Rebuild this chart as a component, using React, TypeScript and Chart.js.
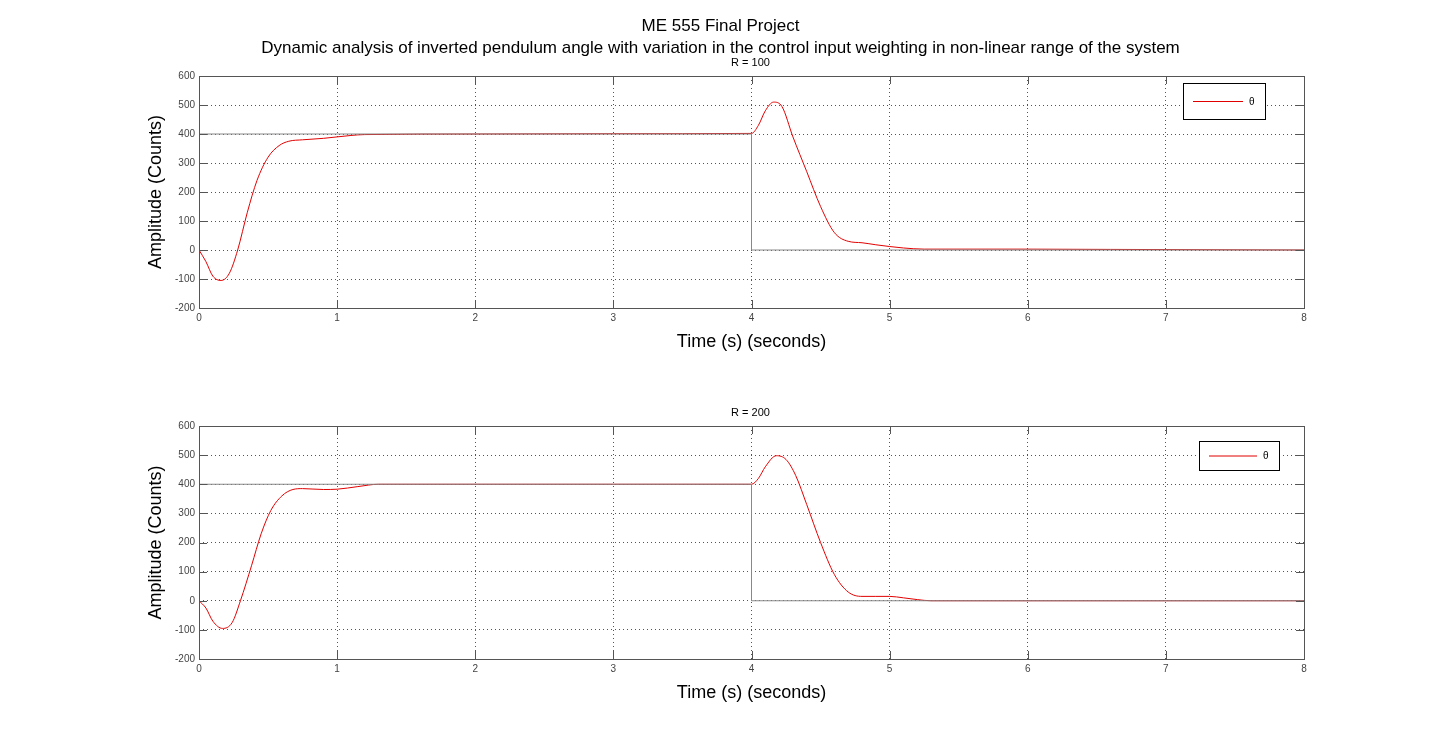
import React, { useEffect, useRef } from "react";
import { Chart, registerables } from "chart.js";
Chart.register(...registerables);

const xTicks = [0, 1, 2, 3, 4, 5, 6, 7, 8];
const yTicks = [-200, -100, 0, 100, 200, 300, 400, 500, 600];
const refT = [0, 4, 4, 8];
const refV = [400, 400, 0, 0];
const t100 = [0, 0.05, 0.1, 0.16, 0.22, 0.28, 0.35, 0.42, 0.5, 0.58, 0.65, 0.75, 0.9, 1.0, 1.2, 2, 3, 4, 4.05, 4.1, 4.16, 4.22, 4.3, 4.4, 4.5, 4.6, 4.7, 4.8, 4.9, 5.0, 5.1, 5.25, 6, 6.6, 8];
const v100 = [0, -40, -90, -105, -80, 0, 130, 240, 320, 360, 375, 380, 385, 390, 398, 400, 401, 402, 430, 480, 510, 495, 390, 270, 150, 60, 30, 25, 18, 12, 7, 3, 3, 2, 0];
const t200 = [0, 0.05, 0.1, 0.17, 0.24, 0.3, 0.38, 0.45, 0.52, 0.6, 0.68, 0.75, 0.9, 1.0, 1.15, 1.3, 2, 3, 4, 4.05, 4.1, 4.18, 4.25, 4.32, 4.4, 4.5, 4.6, 4.7, 4.8, 4.9, 5.0, 5.1, 5.2, 5.3, 6, 8];
const v200 = [0, -25, -70, -95, -75, 0, 120, 230, 310, 360, 382, 385, 382, 383, 392, 400, 400, 400, 400, 420, 460, 498, 485, 430, 330, 200, 90, 30, 15, 15, 15, 10, 4, 0, 0, 0];

const pts = (t: number[], v: number[]) => t.map((x, i) => ({ x, y: v[i] }));
const FONT = "'Liberation Sans', Arial, sans-serif";

const framePlugin = (legendRight: number, legendTop: number, legendW: number, legendH: number) => ({
  id: "frame",
  afterDraw(chart: any) {
    const { ctx, chartArea: a, scales } = chart;
    ctx.save();
    ctx.setLineDash([]);
    ctx.strokeStyle = "#555";
    ctx.lineWidth = 1;
    ctx.strokeRect(a.left + 0.5, a.top + 0.5, a.right - a.left, a.bottom - a.top);
    ctx.beginPath();
    xTicks.forEach((v) => {
      const x = Math.round(scales.x.getPixelForValue(v)) + 0.5;
      ctx.moveTo(x, a.bottom); ctx.lineTo(x, a.bottom - 8);
      ctx.moveTo(x, a.top); ctx.lineTo(x, a.top + 8);
    });
    yTicks.forEach((v) => {
      const y = Math.round(scales.y.getPixelForValue(v)) + 0.5;
      ctx.moveTo(a.left, y); ctx.lineTo(a.left + 8, y);
      ctx.moveTo(a.right, y); ctx.lineTo(a.right - 8, y);
    });
    ctx.stroke();
    const lx = a.right - legendRight - legendW;
    const ly = a.top + legendTop;
    ctx.fillStyle = "#fff";
    ctx.fillRect(lx, ly, legendW, legendH);
    ctx.strokeStyle = "#000";
    ctx.strokeRect(lx + 0.5, ly + 0.5, legendW, legendH);
    ctx.beginPath();
    ctx.strokeStyle = "#e00000";
    ctx.moveTo(lx + 10, ly + legendH / 2 + 0.5);
    ctx.lineTo(lx + legendW - 22, ly + legendH / 2 + 0.5);
    ctx.stroke();
    ctx.fillStyle = "#000";
    ctx.font = `10px ${FONT}`;
    ctx.textBaseline = "middle";
    ctx.fillText("θ", lx + legendW - 16, ly + legendH / 2 + 1);
    ctx.restore();
  },
});

function Plot(props: { t: number[]; v: number[]; padTop: number; padBottom: number; legend: number[] }) {
  const ref = useRef<HTMLCanvasElement>(null);
  useEffect(() => {
    const [lr, lt, lw, lh] = props.legend;
    const grid = { color: "#555", lineWidth: 1, drawTicks: false };
    const border = { display: false, dash: [1, 3] };
    const chart = new Chart(ref.current!, {
      type: "line",
      data: {
        datasets: [
          { data: pts(refT, refV), borderColor: "#888", borderWidth: 1, pointRadius: 0, tension: 0 },
          { data: pts(props.t, props.v), borderColor: "#e00000", borderWidth: 1, pointRadius: 0, cubicInterpolationMode: "monotone" },
        ],
      },
      options: {
        animation: false,
        responsive: false,
        layout: { padding: { left: 145, right: 137, top: props.padTop, bottom: props.padBottom } },
        plugins: { legend: { display: false }, tooltip: { enabled: false } },
        scales: {
          x: {
            type: "linear", min: 0, max: 8,
            afterBuildTicks: (s: any) => { s.ticks = xTicks.map((value) => ({ value })); },
            afterFit: (s: any) => { s.height = 45; },
            grid, border,
            ticks: { color: "#444", font: { size: 10, family: FONT }, padding: 4, maxRotation: 0 },
            title: { display: true, text: "Time (s) (seconds)", color: "#000", font: { size: 18, family: FONT }, padding: 0 },
          },
          y: {
            type: "linear", min: -200, max: 600,
            afterBuildTicks: (s: any) => { s.ticks = yTicks.map((value) => ({ value })); },
            afterFit: (s: any) => { s.width = 54; },
            grid, border,
            ticks: { color: "#444", font: { size: 10, family: FONT }, padding: 4 },
            title: { display: true, text: "Amplitude (Counts)", color: "#000", font: { size: 18, family: FONT }, padding: 0 },
          },
        },
      },
      plugins: [framePlugin(lr, lt, lw, lh)],
    } as any);
    return () => chart.destroy();
  }, []);
  return <canvas ref={ref} width={1441} height={370} style={{ display: "block" }} />;
}

export default function App() {
  const txt = { position: "absolute" as const, left: 0, width: 1441, textAlign: "center" as const, fontFamily: FONT, color: "#000" };
  return (
    <div style={{ position: "fixed", left: 0, top: 0, width: 1441, height: 740, background: "#fff", overflow: "hidden" }}>
      <div style={{ position: "absolute", top: 0 }}><Plot t={t100} v={v100} padTop={76} padBottom={17} legend={[39, 7, 82, 36]} /></div>
      <div style={{ position: "absolute", top: 370 }}><Plot t={t200} v={v200} padTop={56} padBottom={36} legend={[25, 15, 80, 29]} /></div>
      <div style={{ ...txt, top: 15, fontSize: 17, lineHeight: "22px" }}>ME 555 Final Project<br />Dynamic analysis of inverted pendulum angle with variation in the control input weighting in non-linear range of the system</div>
      <div style={{ ...txt, left: 30, top: 56, fontSize: 11 }}>R = 100</div>
      <div style={{ ...txt, left: 30, top: 406, fontSize: 11 }}>R = 200</div>
    </div>
  );
}
